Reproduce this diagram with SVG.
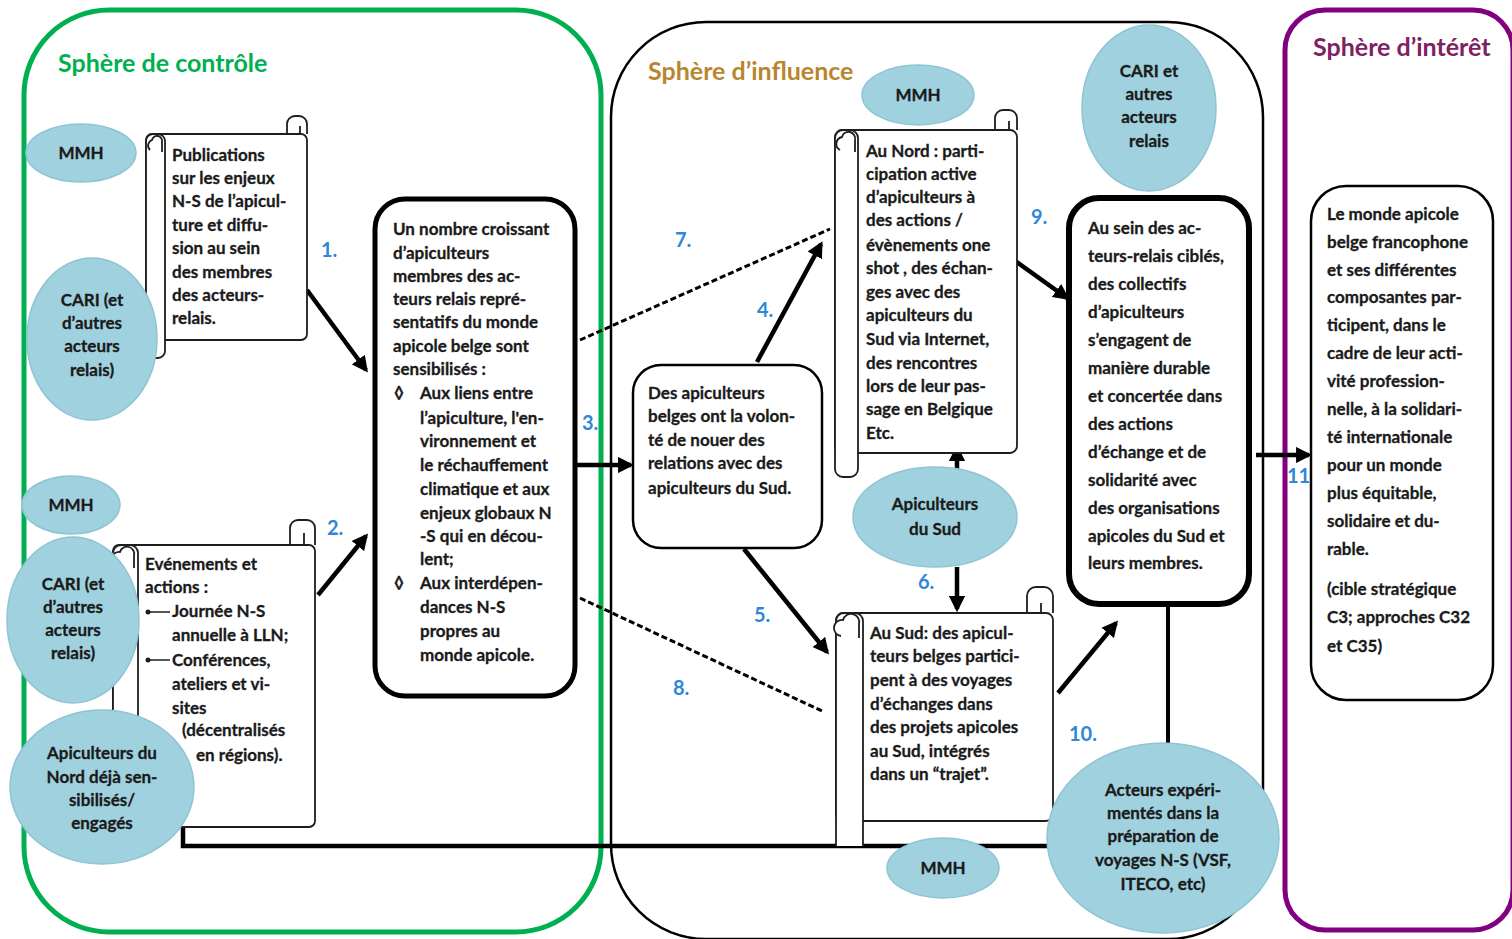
<svg xmlns="http://www.w3.org/2000/svg" width="1512" height="939" viewBox="0 0 1512 939">
<defs>
<style>
.t{font-family:Lato,"Liberation Sans",sans-serif;font-weight:bold;font-size:17px;fill:#1a1a1a;stroke:#1a1a1a;stroke-width:0.3}
.c{text-anchor:middle}
.n{font-family:Lato,"Liberation Sans",sans-serif;font-weight:bold;font-size:20px;fill:#2f87d8}
.title{font-family:Lato,"Liberation Sans",sans-serif;font-weight:bold;font-size:25px}
.ell{fill:#a0d1df;stroke:#8fc4d4;stroke-width:1.5}
.sheet{fill:#fff;stroke:#1e1e1e;stroke-width:1.8}
.box{fill:#fff;stroke:#000}
.arr{stroke:#000;stroke-width:4.5;fill:none;marker-end:url(#ah)}
.dash{stroke:#000;stroke-width:3;fill:none;stroke-dasharray:6 3}
</style>
<marker id="ah" viewBox="0 0 10 10" refX="8" refY="5" markerWidth="3.6" markerHeight="3.6" orient="auto-start-reverse" markerUnits="strokeWidth">
<path d="M0,0 L10,5 L0,10 z" fill="#000"/>
</marker>
</defs>
<rect width="1512" height="939" fill="#fff"/>

<!-- spheres -->
<g id="sphere-controle">
<rect x="24" y="10" width="577" height="922" rx="85" fill="none" stroke="#00b050" stroke-width="5"/>
<text class="title" x="58" y="72" fill="#00b050">Sphère de contrôle</text>
</g>
<g id="sphere-influence">
<rect x="611" y="22" width="652" height="917" rx="95" fill="none" stroke="#000" stroke-width="2.5"/>
<text class="title" x="648" y="80" fill="#b8862e">Sphère d’influence</text>
</g>
<g id="sphere-interet">
<rect x="1285" y="10" width="228" height="920" rx="40" fill="none" stroke="#800080" stroke-width="5"/>
<text class="title" x="1313" y="56" fill="#7f2060">Sphère d’intérêt</text>
</g>

<!-- connectors -->
<g id="connectors">
<polyline points="183,820 183,846 1052,846" fill="none" stroke="#000" stroke-width="4.5"/>
<line x1="1168" y1="605" x2="1168" y2="745" stroke="#000" stroke-width="4"/>
<line class="arr" x1="307" y1="290" x2="366" y2="370"/>
<line class="arr" x1="318" y1="595" x2="366" y2="536"/>
<line class="arr" x1="577" y1="465" x2="631" y2="465"/>
<line class="arr" x1="757" y1="362" x2="821" y2="244"/>
<line class="arr" x1="744" y1="549" x2="827" y2="652"/>
<line class="arr" x1="957" y1="470" x2="957" y2="448"/>
<line class="arr" x1="957" y1="567" x2="957" y2="609"/>
<line class="dash" x1="580" y1="340" x2="830" y2="229"/>
<line class="dash" x1="580" y1="598" x2="822" y2="711"/>
<line class="arr" x1="1014" y1="260" x2="1067" y2="298"/>
<line class="arr" x1="1058" y1="693" x2="1116" y2="623"/>
<line class="arr" x1="1256" y1="455" x2="1309" y2="455"/>
<text class="n" x="321" y="257">1.</text>
<text class="n" x="327" y="535">2.</text>
<text class="n" x="582" y="430">3.</text>
<text class="n" x="757" y="317">4.</text>
<text class="n" x="754" y="622">5.</text>
<text class="n" x="918" y="589">6.</text>
<text class="n" x="675" y="247">7.</text>
<text class="n" x="673" y="695">8.</text>
<text class="n" x="1031" y="224">9.</text>
<text class="n" x="1069" y="741">10.</text>
<text class="n" x="1287" y="483">11.</text>
</g>

<!-- scroll: Publications -->
<g id="scroll-publications">
<path class="sheet" d="M287,134 V124 A8 8 0 0 1 295,116 H299 A8 8 0 0 1 307,124 V134 M287,134 H300 V126"/>
<rect class="sheet" x="146" y="134" width="161" height="206" rx="6"/>
<rect class="sheet" x="146" y="134" width="19" height="224" rx="7"/>
<path class="sheet" d="M150,150 A6 6 0 0 1 152,140 A5 5 0 0 1 162,142 V152" fill="none"/>
<text class="t"><tspan x="172" y="161">Publications</tspan><tspan x="172" y="184">sur les enjeux</tspan><tspan x="172" y="207">N-S de l’apicul-</tspan><tspan x="172" y="231">ture et diffu-</tspan><tspan x="172" y="254">sion au sein</tspan><tspan x="172" y="278">des membres</tspan><tspan x="172" y="301">des acteurs-</tspan><tspan x="172" y="324">relais.</tspan></text>
</g>

<!-- scroll: Evenements -->
<g id="scroll-evenements">
<path class="sheet" d="M290,545 V528 A8 8 0 0 1 298,520 H307 A8 8 0 0 1 315,528 V545 M290,545 H304 V533"/>
<rect class="sheet" x="113" y="545" width="202" height="282" rx="6"/>
<rect class="sheet" x="113" y="545" width="25" height="300" rx="8"/>
<path class="sheet" d="M118,566 A7 7 0 0 1 120,552 A6 6 0 0 1 134,556 V568" fill="none"/>
<circle cx="148" cy="612" r="2.5" fill="#1e1e1e"/><line x1="148" y1="612" x2="170" y2="612" stroke="#1e1e1e" stroke-width="1.5"/>
<circle cx="148" cy="660" r="2.5" fill="#1e1e1e"/><line x1="148" y1="660" x2="170" y2="660" stroke="#1e1e1e" stroke-width="1.5"/>
<text class="t"><tspan x="145" y="570">Evénements et</tspan><tspan x="145" y="593">actions :</tspan><tspan x="172" y="617">Journée N-S</tspan><tspan x="172" y="641">annuelle à LLN;</tspan><tspan x="172" y="666">Conférences,</tspan><tspan x="172" y="690">ateliers et vi-</tspan><tspan x="172" y="714">sites</tspan><tspan x="182" y="736">(décentralisés</tspan><tspan x="196" y="761">en régions).</tspan></text>
</g>

<!-- scroll: Au Nord -->
<g id="scroll-nord">
<path class="sheet" d="M995,130 V118 A8 8 0 0 1 1003,110 H1009 A8 8 0 0 1 1017,118 V130 M995,130 H1009 V121"/>
<rect class="sheet" x="835" y="130" width="182" height="323" rx="7"/>
<rect class="sheet" x="835" y="130" width="23" height="347" rx="8"/>
<path class="sheet" d="M840,150 A7 7 0 0 1 842,137 A6 6 0 0 1 855,140 V152" fill="none"/>
<text class="t"><tspan x="866" y="157">Au Nord : parti-</tspan><tspan x="866" y="180">cipation active</tspan><tspan x="866" y="203">d’apiculteurs à</tspan><tspan x="866" y="226">des actions /</tspan><tspan x="866" y="251">évènements one</tspan><tspan x="866" y="274">shot , des échan-</tspan><tspan x="866" y="298">ges avec des</tspan><tspan x="866" y="321">apiculteurs du</tspan><tspan x="866" y="345">Sud via Internet,</tspan><tspan x="866" y="369">des rencontres</tspan><tspan x="866" y="392">lors de leur pas-</tspan><tspan x="866" y="415">sage en Belgique</tspan><tspan x="866" y="439">Etc.</tspan></text>
</g>

<!-- scroll: Au Sud -->
<g id="scroll-sud">
<path class="sheet" d="M1027,613 V596 A9 9 0 0 1 1036,587 H1044 A9 9 0 0 1 1053,596 V613 M1027,613 H1041 V603"/>
<rect class="sheet" x="836" y="613" width="217" height="208" rx="7"/>
<path class="sheet" d="M836,846 V621 A8 8 0 0 1 844,613 H855 A8 8 0 0 1 863,621 V846"/>
<path class="sheet" d="M841,636 A8 8 0 0 1 843,620 A7 7 0 0 1 859,624 V638" fill="none"/>
<text class="t"><tspan x="870" y="639">Au Sud: des apicul-</tspan><tspan x="870" y="662">teurs belges partici-</tspan><tspan x="870" y="686">pent à des voyages</tspan><tspan x="870" y="710">d’échanges dans</tspan><tspan x="870" y="733">des  projets apicoles</tspan><tspan x="870" y="757">au Sud, intégrés</tspan><tspan x="870" y="780">dans un “trajet”.</tspan></text>
</g>

<!-- box A -->
<g id="box-sensibilises">
<rect class="box" x="375" y="199" width="200" height="497" rx="30" stroke-width="5"/>
<text class="t"><tspan x="393" y="235">Un nombre croissant</tspan><tspan x="393" y="259">d’apiculteurs</tspan><tspan x="393" y="282">membres des ac-</tspan><tspan x="393" y="305">teurs relais repré-</tspan><tspan x="393" y="328">sentatifs du monde</tspan><tspan x="393" y="352">apicole belge sont</tspan><tspan x="393" y="375">sensibilisés :</tspan>
<tspan x="394" y="399">◊</tspan><tspan x="420" y="399">Aux liens entre</tspan><tspan x="420" y="424">l’apiculture, l'en-</tspan><tspan x="420" y="447">vironnement et</tspan><tspan x="420" y="471">le réchauffement</tspan><tspan x="420" y="495">climatique et aux</tspan><tspan x="420" y="519">enjeux globaux N</tspan><tspan x="420" y="542">-S qui en décou-</tspan><tspan x="420" y="565">lent;</tspan>
<tspan x="394" y="589">◊</tspan><tspan x="420" y="589">Aux interdépen-</tspan><tspan x="420" y="613">dances N-S</tspan><tspan x="420" y="637">propres au</tspan><tspan x="420" y="661">monde apicole.</tspan></text>
</g>

<!-- box B -->
<g id="box-volonte">
<rect class="box" x="633" y="365" width="189" height="183" rx="28" stroke-width="2.5"/>
<text class="t"><tspan x="648" y="399">Des apiculteurs</tspan><tspan x="648" y="422">belges ont la volon-</tspan><tspan x="648" y="446">té de nouer des</tspan><tspan x="648" y="469">relations avec des</tspan><tspan x="648" y="494">apiculteurs du Sud.</tspan></text>
</g>

<!-- box C -->
<g id="box-collectifs">
<rect class="box" x="1069" y="198" width="180" height="406" rx="30" stroke-width="6"/>
<text class="t"><tspan x="1088" y="234">Au sein des ac-</tspan><tspan x="1088" y="262">teurs-relais ciblés,</tspan><tspan x="1088" y="290">des collectifs</tspan><tspan x="1088" y="318">d’apiculteurs</tspan><tspan x="1088" y="346">s’engagent de</tspan><tspan x="1088" y="374">manière durable</tspan><tspan x="1088" y="402">et concertée dans</tspan><tspan x="1088" y="430">des actions</tspan><tspan x="1088" y="458">d’échange et de</tspan><tspan x="1088" y="486">solidarité avec</tspan><tspan x="1088" y="514">des organisations</tspan><tspan x="1088" y="542">apicoles du Sud et</tspan><tspan x="1088" y="569">leurs membres.</tspan></text>
</g>

<!-- box D -->
<g id="box-monde-apicole">
<rect class="box" x="1311" y="186" width="182" height="514" rx="35" stroke-width="2.5"/>
<text class="t"><tspan x="1327" y="220">Le monde apicole</tspan><tspan x="1327" y="248">belge francophone</tspan><tspan x="1327" y="276">et ses différentes</tspan><tspan x="1327" y="303">composantes par-</tspan><tspan x="1327" y="331">ticipent, dans le</tspan><tspan x="1327" y="359">cadre de leur acti-</tspan><tspan x="1327" y="387">vité profession-</tspan><tspan x="1327" y="415">nelle,  à la solidari-</tspan><tspan x="1327" y="443">té internationale</tspan><tspan x="1327" y="471">pour un monde</tspan><tspan x="1327" y="499">plus équitable,</tspan><tspan x="1327" y="527">solidaire et du-</tspan><tspan x="1327" y="555">rable.</tspan><tspan x="1327" y="595">(cible stratégique</tspan><tspan x="1327" y="623">C3; approches C32</tspan><tspan x="1327" y="652">et C35)</tspan></text>
</g>

<!-- ellipses -->
<g id="mmh-1"><ellipse class="ell" cx="81" cy="153" rx="55" ry="29"/><text class="t c" x="81" y="159">MMH</text></g>
<g id="cari-1"><ellipse class="ell" cx="92" cy="339" rx="65" ry="81"/><text class="t c"><tspan x="92" y="306">CARI (et</tspan><tspan x="92" y="329">d’autres</tspan><tspan x="92" y="352">acteurs</tspan><tspan x="92" y="376">relais)</tspan></text></g>
<g id="mmh-2"><ellipse class="ell" cx="71" cy="505" rx="49" ry="29"/><text class="t c" x="71" y="511">MMH</text></g>
<g id="cari-2"><ellipse class="ell" cx="73" cy="620" rx="66" ry="83"/><text class="t c"><tspan x="73" y="590">CARI (et</tspan><tspan x="73" y="613">d’autres</tspan><tspan x="73" y="636">acteurs</tspan><tspan x="73" y="659">relais)</tspan></text></g>
<g id="apiculteurs-nord"><ellipse class="ell" cx="102" cy="787" rx="92" ry="77"/><text class="t c"><tspan x="102" y="759">Apiculteurs du</tspan><tspan x="102" y="783">Nord déjà sen-</tspan><tspan x="102" y="806">sibilisés/</tspan><tspan x="102" y="829">engagés</tspan></text></g>
<g id="mmh-3"><ellipse class="ell" cx="918" cy="95" rx="56" ry="30"/><text class="t c" x="918" y="101">MMH</text></g>
<g id="cari-3"><ellipse class="ell" cx="1149" cy="108" rx="67" ry="83"/><text class="t c"><tspan x="1149" y="77">CARI et</tspan><tspan x="1149" y="100">autres</tspan><tspan x="1149" y="123">acteurs</tspan><tspan x="1149" y="147">relais</tspan></text></g>
<g id="apiculteurs-sud"><ellipse class="ell" cx="935" cy="517" rx="82" ry="50"/><text class="t c"><tspan x="935" y="510">Apiculteurs</tspan><tspan x="935" y="535">du Sud</tspan></text></g>
<g id="mmh-4"><ellipse class="ell" cx="943" cy="868" rx="56" ry="30"/><text class="t c" x="943" y="874">MMH</text></g>
<g id="acteurs-experimentes"><ellipse class="ell" cx="1163" cy="838" rx="116" ry="95"/><text class="t c"><tspan x="1163" y="796">Acteurs expéri-</tspan><tspan x="1163" y="819">mentés  dans la</tspan><tspan x="1163" y="842">préparation de</tspan><tspan x="1163" y="866">voyages N-S (VSF,</tspan><tspan x="1163" y="890">ITECO, etc)</tspan></text></g>
</svg>
